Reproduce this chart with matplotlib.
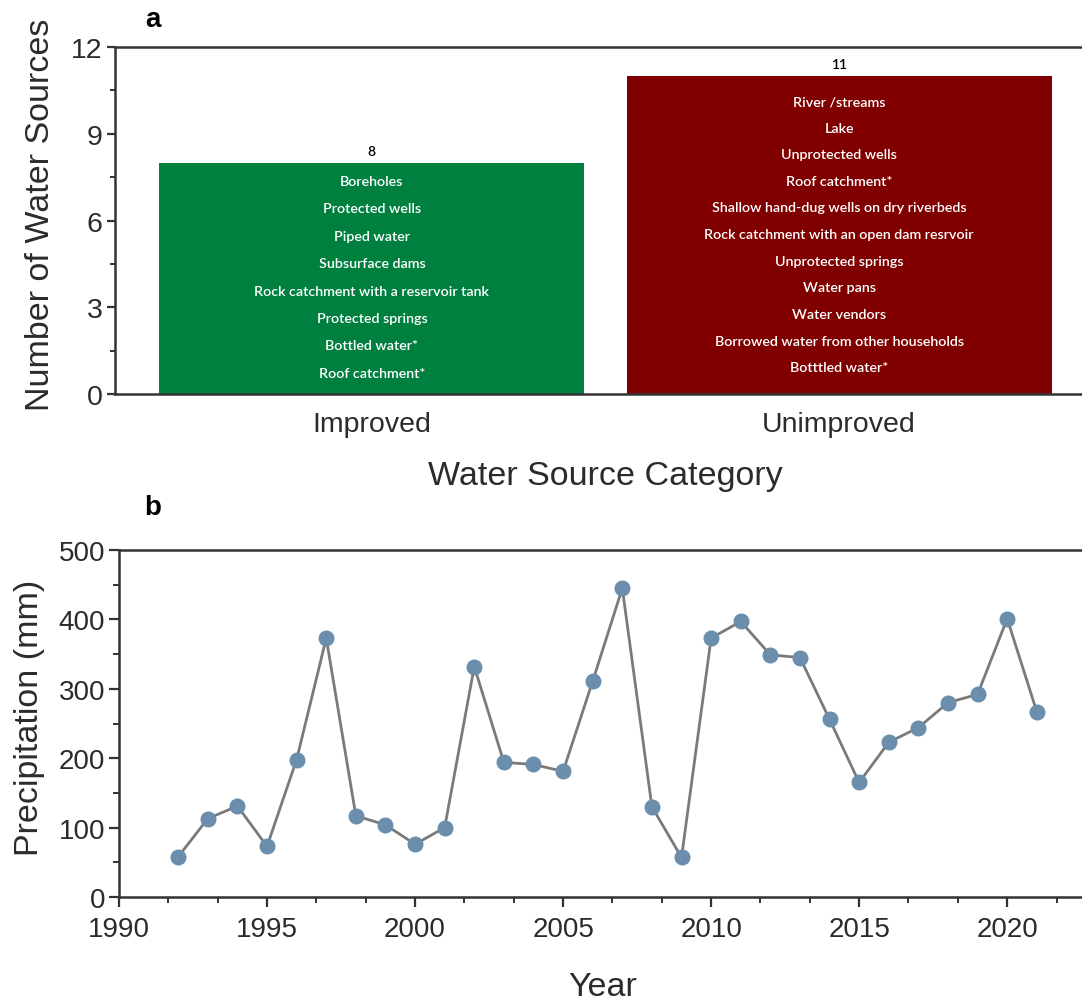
import numpy as np
import matplotlib
matplotlib.use("Agg")
import matplotlib.pyplot as plt
from matplotlib.ticker import MultipleLocator

# --- data ---
categories = ["Improved", "Unimproved"]
source_counts = [8, 11]
improved_sources = [
    "Boreholes",
    "Protected wells",
    "Piped water",
    "Subsurface dams",
    "Rock catchment with a reservoir tank",
    "Protected springs",
    "Bottled water*",
    "Roof catchment*",
]
unimproved_sources = [
    "River /streams",
    "Lake",
    "Unprotected wells",
    "Roof catchment*",
    "Shallow hand-dug wells on dry riverbeds",
    "Rock catchment with an open dam resrvoir",
    "Unprotected springs",
    "Water pans",
    "Water vendors",
    "Borrowed water from other households",
    "Botttled water*",
]

years = list(range(1992, 2022))
precip_mm = [58, 113, 131, 73, 198, 373, 117, 104, 76, 100,
             332, 194, 191, 181, 311, 445, 130, 57, 373, 397,
             349, 345, 256, 165, 223, 244, 280, 292, 401, 267]

# --- style ---
TXT = "#2b2b2b"
SPINE = "#333333"
BAR_COLORS = ["#00803F", "#800000"]
LINE_COLOR = "#7a7a7a"
MARKER_COLOR = "#6a8eab"
ITEM_FONT = ["Lato", "DejaVu Sans"]

plt.rcParams["font.family"] = ["Liberation Sans", "DejaVu Sans"]
plt.rcParams["text.color"] = TXT
plt.rcParams["axes.labelcolor"] = TXT
plt.rcParams["xtick.color"] = SPINE
plt.rcParams["ytick.color"] = SPINE
plt.rcParams["xtick.labelcolor"] = TXT
plt.rcParams["ytick.labelcolor"] = TXT

W, H = 1082, 1003
fig = plt.figure(figsize=(W / 100, H / 100), dpi=100)


def px_axes(left, top, right, bottom):
    return fig.add_axes([left / W, 1 - bottom / H, (right - left) / W, (bottom - top) / H])


def style_spines(ax):
    for side in ("left", "bottom", "top"):
        ax.spines[side].set_color(SPINE)
        ax.spines[side].set_linewidth(1.8)
    ax.spines["right"].set_visible(False)


# ---------------- panel a: bar chart ----------------
ax1 = px_axes(115, 48, 1096, 395)
x = np.arange(len(categories))
bars = ax1.bar(x, source_counts, width=0.91, color=BAR_COLORS, edgecolor="none", zorder=2)

# item names stacked inside each bar (top and bottom line centres in data units)
lists = [improved_sources, unimproved_sources]
text_spans = [(7.37, 0.73), (10.13, 0.93)]
for xi, items, (y_top, y_bot), cnt in zip(x, lists, text_spans, source_counts):
    for yy, name in zip(np.linspace(y_top, y_bot, len(items)), items):
        ax1.text(xi, yy, name, ha="center", va="center", color="white",
                 fontsize=10.3, family=ITEM_FONT, fontweight="semibold", zorder=3)
    ax1.text(xi, cnt + 0.4, str(cnt), ha="center", va="center", color="black",
             fontsize=10, family=ITEM_FONT, fontweight="semibold")

ax1.set_xlim(-0.55, 1.55)
ax1.set_ylim(0, 12)
ax1.set_xticks(x)
ax1.set_xticklabels(categories)
ax1.yaxis.set_major_locator(MultipleLocator(3))
ax1.yaxis.set_minor_locator(MultipleLocator(1.5))
ax1.tick_params(axis="x", length=0, labelsize=20.5, pad=12)
ax1.tick_params(axis="y", which="major", direction="out", length=6, width=1.6, labelsize=20.5, pad=3)
ax1.tick_params(axis="y", which="minor", direction="out", length=3.5, width=1.4)
style_spines(ax1)
ax1.set_ylabel("Number of Water Sources", fontsize=24.5)
ax1.yaxis.set_label_coords(-0.06, 0.52)
ax1.set_xlabel("Water Source Category", fontsize=24.5)
ax1.xaxis.set_label_coords(0.5, -0.19)

# ---------------- panel b: precipitation ----------------
ax2 = px_axes(119, 551, 1096, 898)
ax2.plot(years, precip_mm, color=LINE_COLOR, linewidth=2, zorder=2)
ax2.plot(years, precip_mm, linestyle="none", marker="o", markersize=10.5,
         markerfacecolor=MARKER_COLOR, markeredgecolor=MARKER_COLOR, zorder=3)

ax2.set_xlim(1990, 2023)
ax2.set_ylim(0, 500)
ax2.xaxis.set_major_locator(MultipleLocator(5))
ax2.xaxis.set_minor_locator(MultipleLocator(5 / 3))
ax2.yaxis.set_major_locator(MultipleLocator(100))
ax2.yaxis.set_minor_locator(MultipleLocator(50))
ax2.tick_params(which="major", direction="out", length=7, width=1.6, labelsize=20, pad=3)
ax2.tick_params(axis="x", which="major", pad=7)
ax2.tick_params(which="minor", direction="out", length=4, width=1.4)
style_spines(ax2)
ax2.set_ylabel("Precipitation (mm)", fontsize=24.5)
ax2.yaxis.set_label_coords(-0.076, 0.52)
ax2.set_xlabel("Year", fontsize=24.5)
ax2.xaxis.set_label_coords(0.495, -0.214)

# panel letters
fig.text(153 / W, 1 - 20 / H, "a", fontsize=20, fontweight="bold", color="black",
         ha="center", va="center")
fig.text(153 / W, 1 - 508 / H, "b", fontsize=20, fontweight="bold", color="black",
         ha="center", va="center")

fig.savefig("out.png", dpi=100, facecolor="white")
